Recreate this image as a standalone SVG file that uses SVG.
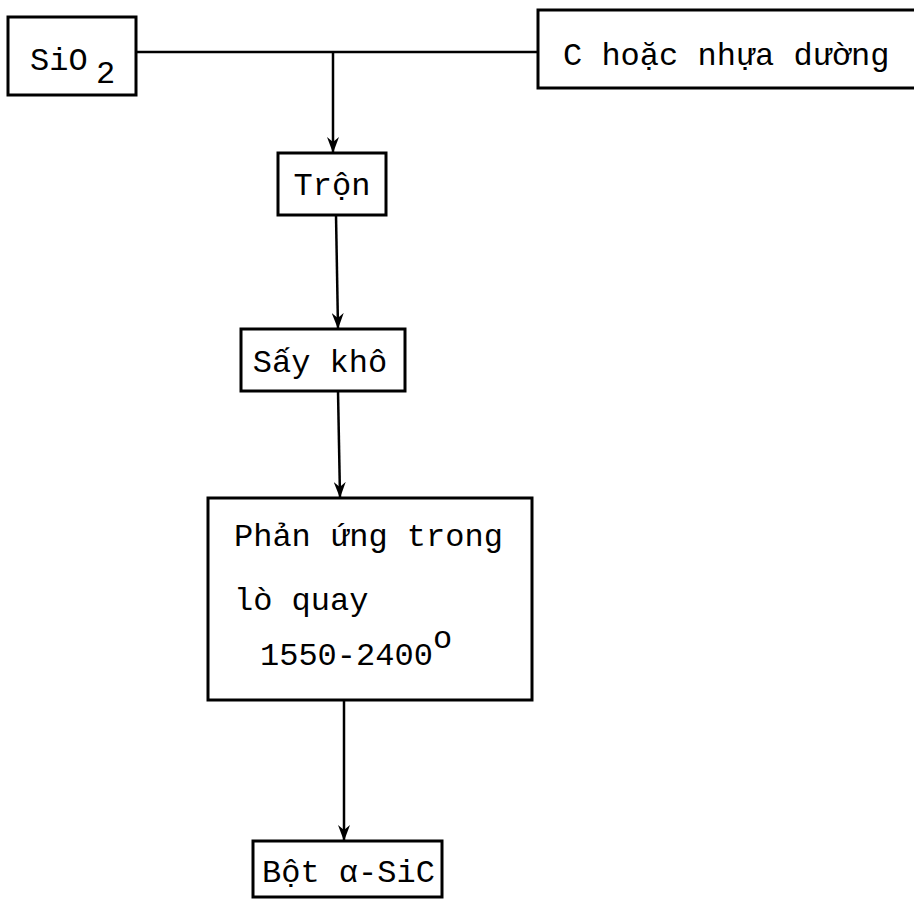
<svg xmlns="http://www.w3.org/2000/svg" width="914" height="900" viewBox="0 0 914 900">
<style>
.box{fill:#fff;stroke:#000;stroke-width:3}
.t{font-family:"Liberation Mono","DejaVu Sans Mono",monospace;font-size:32px;fill:#000}
.c{stroke:#000;stroke-width:2.5;fill:none}
</style>
<defs>
<marker id="ah" markerWidth="16" markerHeight="12" refX="15" refY="6" orient="auto" markerUnits="userSpaceOnUse">
<path d="M0,0 L5,6 L0,12 L16,6 Z" fill="#000"/>
</marker>
</defs>
<rect width="914" height="900" fill="#fff"/>
<g id="connectors">
<line class="c" x1="137" y1="52" x2="538" y2="52"/>
<line class="c" x1="333" y1="52" x2="333" y2="152" marker-end="url(#ah)"/>
<line class="c" x1="336" y1="215" x2="338" y2="328" marker-end="url(#ah)"/>
<line class="c" x1="338" y1="391" x2="340" y2="497" marker-end="url(#ah)"/>
<line class="c" x1="344" y1="700" x2="344" y2="840" marker-end="url(#ah)"/>
</g>
<g id="sio2">
<rect class="box" x="8" y="17" width="128" height="78"/>
<text class="t" x="30" y="70">SiO</text>
<text class="t" x="96" y="83" font-size="19">2</text>
</g>
<g id="carbon">
<rect class="box" x="538" y="10" width="400" height="78"/>
<text class="t" x="563" y="65">C hoặc nhựa dường</text>
</g>
<g id="tron">
<rect class="box" x="278" y="153" width="108" height="62"/>
<text class="t" x="332" y="195" text-anchor="middle">Trộn</text>
</g>
<g id="saykho">
<rect class="box" x="241" y="329" width="164" height="62"/>
<text class="t" x="320" y="372" text-anchor="middle">Sấy khô</text>
</g>
<g id="phanung">
<rect class="box" x="208" y="498" width="324" height="202"/>
<text class="t" x="234" y="546">Phản ứng trong</text>
<text class="t" x="234" y="610">lò quay</text>
<text class="t" x="260" y="665" font-size="29">1550-2400</text>
<text class="t" x="433" y="648" font-size="20">o</text>
</g>
<g id="bot">
<rect class="box" x="253" y="841" width="189" height="56"/>
<text class="t" x="262" y="882">Bột α-SiC</text>
</g>
</svg>
